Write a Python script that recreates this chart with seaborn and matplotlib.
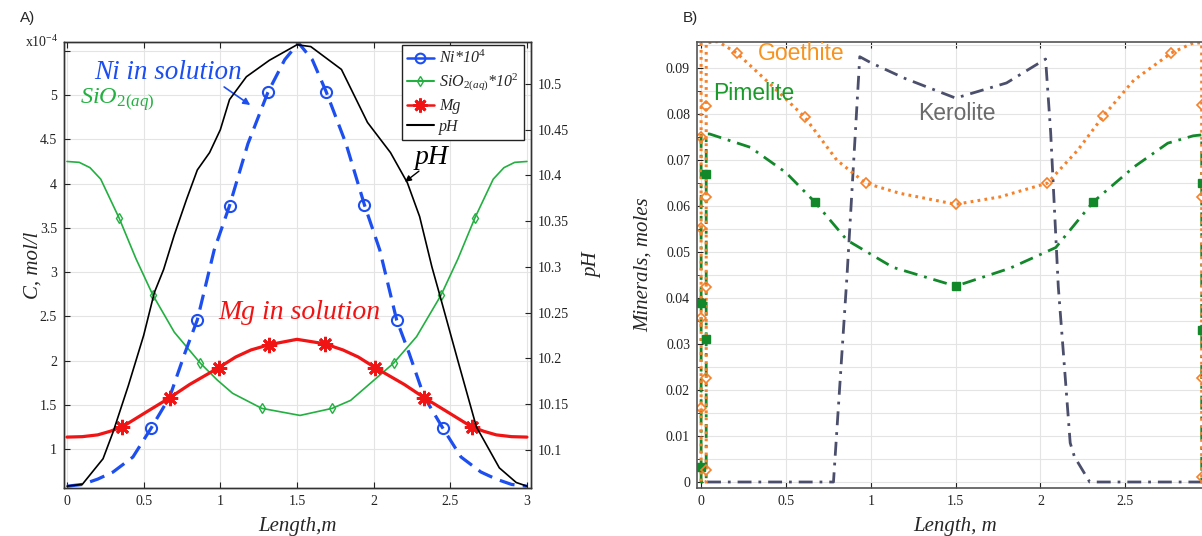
import seaborn as sns
import matplotlib.pyplot as plt
import matplotlib.ticker as mticker
from matplotlib.lines import Line2D
import numpy as np

# ---- panel A data (C in 1e-4 mol/l, pH on right axis) ----
ni_x = [0, 0.1, 0.2, 0.3, 0.43, 0.55, 0.67, 0.77, 0.85, 0.96, 1.06, 1.18, 1.31, 1.42, 1.51,
        1.6, 1.69, 1.82, 1.94, 2.04, 2.15, 2.23, 2.33, 2.45, 2.57, 2.7, 2.8, 2.9, 3.0]
ni_y = [0.58, 0.60, 0.66, 0.74, 0.91, 1.24, 1.59, 2.09, 2.46, 3.25, 3.75, 4.45, 5.03, 5.40, 5.59,
        5.40, 5.04, 4.45, 3.76, 3.25, 2.46, 2.09, 1.59, 1.24, 0.91, 0.74, 0.66, 0.60, 0.58]
ni_mx = [0.55, 0.85, 1.06, 1.31, 1.69, 1.94, 2.15, 2.45]
ni_my = [1.24, 2.46, 3.75, 5.03, 5.04, 3.76, 2.46, 1.24]

si_x = [0, 0.08, 0.15, 0.22, 0.34, 0.45, 0.56, 0.7, 0.87, 0.98, 1.08, 1.27, 1.52,
        1.73, 1.85, 2.13, 2.28, 2.44, 2.55, 2.66, 2.78, 2.85, 2.92, 3.0]
si_y = [4.25, 4.24, 4.18, 4.05, 3.61, 3.15, 2.74, 2.32, 1.97, 1.78, 1.63, 1.46, 1.38,
        1.46, 1.55, 1.97, 2.27, 2.74, 3.15, 3.61, 4.05, 4.18, 4.24, 4.25]
si_mx = [0.34, 0.56, 0.87, 1.27, 1.73, 2.13, 2.44, 2.66]
si_my = [3.61, 2.74, 1.97, 1.46, 1.46, 1.97, 2.74, 3.61]

mg_x = [0, 0.1, 0.2, 0.28, 0.36, 0.5, 0.67, 0.8, 0.99, 1.1, 1.2, 1.32, 1.5,
        1.68, 1.8, 1.9, 2.01, 2.2, 2.33, 2.5, 2.64, 2.72, 2.8, 2.9, 3.0]
mg_y = [1.135, 1.14, 1.16, 1.2, 1.25, 1.4, 1.58, 1.73, 1.92, 2.04, 2.12, 2.18, 2.24,
        2.19, 2.12, 2.04, 1.92, 1.73, 1.58, 1.4, 1.25, 1.2, 1.16, 1.14, 1.135]
mg_mx = [0.36, 0.67, 0.99, 1.32, 1.68, 2.01, 2.33, 2.64]
mg_my = [1.25, 1.58, 1.92, 2.18, 2.19, 1.92, 1.58, 1.25]

ph_x = [0, 0.1, 0.235, 0.3, 0.4, 0.5, 0.57, 0.63, 0.7, 0.78, 0.85, 0.93, 1.0, 1.06, 1.17, 1.32, 1.5,
        1.59, 1.79, 1.96, 2.11, 2.22, 2.3, 2.38, 2.43, 2.55, 2.67, 2.82, 2.93, 3.0]
ph_y = [10.06, 10.062, 10.09, 10.119, 10.17, 10.225, 10.272, 10.297, 10.335, 10.374, 10.406, 10.425,
        10.45, 10.483, 10.508, 10.526, 10.543, 10.541, 10.516, 10.458, 10.425, 10.392, 10.355, 10.30,
        10.27, 10.197, 10.125, 10.08, 10.064, 10.06]

# ---- panel B data (minerals, moles) ----
goe_x = [0.0, 0.0, 0.03, 0.03, 0.1, 0.21, 0.4, 0.61, 0.8, 0.97, 1.17, 1.5, 1.76, 2.04, 2.22,
         2.37, 2.55, 2.77, 2.9, 2.95, 2.95, 3.0, 3.0]
goe_y = [0.0955, 0.0, 0.0, 0.0955, 0.0958, 0.0933, 0.0868, 0.0794, 0.070, 0.065, 0.0628, 0.0604,
         0.062, 0.065, 0.0722, 0.0796, 0.0874, 0.0933, 0.0955, 0.0955, 0.0, 0.0, 0.0955]
goe_mx = [0.0, 0.0, 0.0, 0.0, 0.03, 0.03, 0.03, 0.03, 0.03, 0.21, 0.61, 0.97, 1.5, 2.04, 2.37,
          2.77, 2.95, 2.95, 2.95, 2.95]
goe_my = [0.075, 0.0552, 0.0357, 0.016, 0.0026, 0.0226, 0.0424, 0.062, 0.0817, 0.0933, 0.0794,
          0.065, 0.0604, 0.065, 0.0796, 0.0933, 0.082, 0.062, 0.0226, 0.001]

pim_x = [0.0, 0.0, 0.03, 0.03, 0.05, 0.29, 0.5, 0.67, 0.86, 1.13, 1.5, 1.82, 2.09, 2.31,
         2.55, 2.75, 2.9, 2.95, 2.95, 3.0, 3.0]
pim_y = [0.0757, 0.0, 0.0, 0.0757, 0.0757, 0.0728, 0.0673, 0.0609, 0.0526, 0.0467, 0.0426,
         0.0465, 0.051, 0.0609, 0.0685, 0.0737, 0.0753, 0.0755, 0.0, 0.0, 0.0757]
pim_mx = [0.0, 0.0, 0.03, 0.03, 0.67, 1.5, 2.31, 2.95, 2.95]
pim_my = [0.039, 0.0033, 0.031, 0.067, 0.0609, 0.0426, 0.0609, 0.065, 0.033]

ker_x = [0.035, 0.78, 0.86, 0.935, 1.0, 1.2, 1.5, 1.8, 2.03, 2.06, 2.105, 2.135, 2.175, 2.2, 2.29, 3.0]
ker_y = [0.0, 0.0, 0.045, 0.0925, 0.0912, 0.0878, 0.0835, 0.0868, 0.092, 0.076, 0.0424, 0.028,
         0.0085, 0.0055, 0.0, 0.0]

sns.set_style("ticks")
plt.rcParams['font.family'] = ['Liberation Serif', 'DejaVu Serif']
plt.rcParams['mathtext.fontset'] = 'custom'
plt.rcParams['mathtext.rm'] = 'Liberation Serif'
plt.rcParams['mathtext.it'] = 'Liberation Serif:italic'
plt.rcParams['mathtext.default'] = 'it'

c_ni, c_si, c_mg = '#1c4ef0', '#22b040', '#f01414'
c_goe, c_pim, c_ker = '#f5822a', '#12882a', '#4b4f6b'

fig = plt.figure(figsize=(12.02, 5.36), dpi=100)
ax = fig.add_axes([0.0532, 0.0896, 0.3885, 0.832])
ax2 = ax.twinx()
axb = fig.add_axes([0.5799, 0.0896, 0.4303, 0.832])

# ---------- panel A ----------
sns.lineplot(x=si_x, y=si_y, ax=ax, sort=False, estimator=None, color=c_si, lw=1.2)
sns.lineplot(x=mg_x, y=mg_y, ax=ax, sort=False, estimator=None, color=c_mg, lw=2.3)
sns.lineplot(x=ni_x, y=ni_y, ax=ax, sort=False, estimator=None, color=c_ni, lw=2.3)
ax.lines[-1].set_dashes((4.8, 2.6))
ax.plot(si_mx, si_my, ls='none', marker='d', ms=5, mfc='none', mec=c_si, mew=1)
ax.plot(mg_mx, mg_my, ls='none', marker=(8, 2, 0), ms=11, mec=c_mg, mew=2)
ax.plot(ni_mx, ni_my, ls='none', marker='o', ms=8, mfc='none', mec=c_ni, mew=1.5)
sns.lineplot(x=ph_x, y=ph_y, ax=ax2, sort=False, estimator=None, color='black', lw=1.2)

ax.set_xlim(-0.02, 3.026)
ax.set_ylim(0.56, 5.6)
ax2.set_ylim(10.058, 10.546)
ax.set_xticks(np.arange(0, 3.01, 0.5))
ax.xaxis.set_major_formatter(mticker.FormatStrFormatter('%g'))
ax.set_yticks(np.arange(1, 5.51, 0.5))
ax.set_yticklabels(['%g' % v for v in np.arange(1, 5.01, 0.5)] + [''])
ax2.set_yticks(np.arange(10.1, 10.501, 0.05))
ax2.yaxis.set_major_formatter(mticker.FormatStrFormatter('%g'))
ax.grid(True, color='#e4e4e4', lw=0.8)
for a in (ax, ax2):
    a.tick_params(direction='in', length=4, width=0.8, labelsize=10, colors='#222222', pad=5)
    for s in a.spines.values():
        s.set_color('#333333')
        s.set_linewidth(1.0)
ax.tick_params(top=True)
ax.text(-0.012, 1.0, r'x10$^{\mathrm{-4}}$', transform=ax.transAxes, ha='right', va='center',
        fontsize=10, color='#222222')

ax.set_xlabel('Length,m', fontsize=15, style='italic')
ax.set_ylabel('C, mol/l', fontsize=15, style='italic')
ax2.set_ylabel('pH', fontsize=15, style='italic')
ax.xaxis.set_label_coords(0.5, -0.064)
ax.yaxis.set_label_coords(-0.046, 0.5)
ax2.yaxis.set_label_coords(1.112, 0.5)

ax.text(0.18, 5.25, 'Ni in solution', color=c_ni, fontsize=19.5, style='italic', va='center')
ax.annotate('', xy=(1.21, 4.87), xytext=(1.01, 5.11),
            arrowprops=dict(arrowstyle='-|>', color=c_ni, lw=1.2, mutation_scale=10))
ax.text(0.085, 4.95, r'SiO$_{2(aq)}$', color=c_si, fontsize=17.5, style='italic', va='center')
ax.text(0.985, 2.54, 'Mg in solution', color=c_mg, fontsize=20, style='italic', va='center')
ax.text(2.27, 4.30, 'pH', color='black', fontsize=20, style='italic', va='center')
ax.annotate('', xy=(2.19, 4.0), xytext=(2.31, 4.16),
            arrowprops=dict(arrowstyle='-|>', color='black', lw=1.0, mutation_scale=9))

handles = [
    Line2D([], [], color=c_ni, lw=1.8, marker='o', ms=7, mfc='none', mew=1.5),
    Line2D([], [], color=c_si, lw=1.5, marker='d', ms=5, mfc='none', mew=1),
    Line2D([], [], color=c_mg, lw=1.8, marker=(8, 2, 0), ms=10, mew=2),
    Line2D([], [], color='black', lw=1.5),
]
labels = [r'Ni*10$^{4}$', r'SiO$_{2(aq)}$*10$^{2}$', 'Mg', 'pH']
leg = ax2.legend(handles, labels, loc='upper right', bbox_to_anchor=(0.985, 0.993),
                 prop={'style': 'italic', 'size': 11.5}, frameon=True, fancybox=False,
                 framealpha=1, edgecolor='#222222', borderpad=0.3, labelspacing=0.3,
                 handlelength=1.7, handletextpad=0.35, borderaxespad=0)
leg.get_frame().set_linewidth(1.0)

# ---------- panel B ----------
sns.lineplot(x=ker_x, y=ker_y, ax=axb, sort=False, estimator=None, color=c_ker, lw=2)
axb.lines[-1].set_dashes((5, 2.5, 1, 2.5))
sns.lineplot(x=pim_x, y=pim_y, ax=axb, sort=False, estimator=None, color=c_pim, lw=2)
axb.lines[-1].set_dashes((5, 2.5, 1, 2.5))
sns.lineplot(x=goe_x, y=goe_y, ax=axb, sort=False, estimator=None, color=c_goe, lw=2.2)
axb.lines[-1].set_dashes((0.9, 1.4))
axb.plot(pim_mx, pim_my, ls='none', marker='s', ms=5.5, color=c_pim)
axb.plot(goe_mx, goe_my, ls='none', marker='D', ms=5, mfc='none', mec=c_goe, mew=1.2)

axb.set_xlim(-0.024, 3.024)
axb.set_ylim(-0.0013, 0.0957)
axb.set_xticks(np.arange(0, 3.01, 0.5))
axb.set_xticklabels(['%g' % v for v in np.arange(0, 2.51, 0.5)] + [''])
axb.set_yticks(np.arange(0, 0.0901, 0.01))
axb.yaxis.set_major_formatter(mticker.FormatStrFormatter('%g'))
axb.yaxis.set_minor_locator(mticker.MultipleLocator(0.005))
axb.grid(True, which='major', axis='x', color='#e4e4e4', lw=0.8)
axb.grid(True, which='both', axis='y', color='#e4e4e4', lw=0.8)
axb.tick_params(direction='in', length=4, width=0.8, labelsize=10, colors='#222222', pad=5,
                top=True)
axb.tick_params(which='minor', direction='in', length=3, left=True)
for s in axb.spines.values():
    s.set_color('#555555')
    s.set_linewidth(1.2)
axb.set_xlabel('Length, m', fontsize=15, style='italic')
axb.set_ylabel('Minerals, moles', fontsize=15, style='italic')
axb.xaxis.set_label_coords(0.499, -0.064)
axb.yaxis.set_label_coords(-0.086, 0.5)

sans = ['Liberation Sans', 'DejaVu Sans']
axb.text(0.336, 0.0933, 'Goethite', color='#f7931e', fontsize=16.5, family=sans, va='center')
axb.text(0.07, 0.0846, 'Pimelite', color='#1a9a2a', fontsize=16.5, family=sans, va='center')
axb.text(1.28, 0.0802, 'Kerolite', color='#6b6b6b', fontsize=16.5, family=sans, va='center')

fig.text(20 / 1202, 1 - 18 / 536, 'A)', fontsize=11, family=sans, va='center')
fig.text(683 / 1202, 1 - 18 / 536, 'B)', fontsize=11, family=sans, va='center')

fig.savefig('out.png', dpi=100)
